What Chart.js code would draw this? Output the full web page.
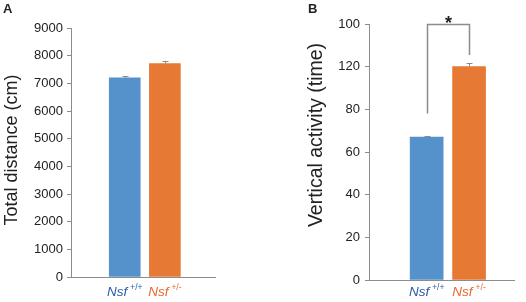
<!DOCTYPE html>
<html>
<head>
<meta charset="utf-8">
<script src="https://cdn.jsdelivr.net/npm/chart.js@4"></script>
<style>
  body { margin: 0; background: #fff; }
  #wrap { position: relative; width: 526px; height: 302px; }
  .panel { position: absolute; top: 0; width: 263px; height: 302px; }
</style>
</head>
<body>
<div id="wrap">
  <div class="panel" style="left:0"><canvas id="chartA" width="263" height="302"></canvas></div>
  <div class="panel" style="left:263px"><canvas id="chartB" width="263" height="302"></canvas></div>
</div>
<script>
// Data
const genes = ["Nsf", "Nsf"];
const genotypes = ["+/+", "+/-"];

const distance = [7200, 7710];
const distanceErr = [80, 95];
const distanceMax = 9000;
const distanceStep = 1000;

// the y labels of panel B run 0..80, then 120 above 100 (as printed)
const activityTicks = ["0", "20", "40", "60", "80", "120", "100"];
const activity = [67, 100];
const activityErr = [0.7, 1.6];
const activityMax = 120;
const activityStep = 20;

// colours
const barColors = ["#5592cc", "#e67a35"];
const labelColors = ["#2a5aa8", "#e8672c"];
const axisColor = "#8c8c8c";
const textColor = "#222222";

Chart.defaults.font.family = "'Liberation Sans', Arial, sans-serif";

// Error bars, genotype labels, axis title, panel letter, significance bracket
const panelDecor = {
  id: "panelDecor",
  afterDraw(chart, args, opts) {
    const { ctx } = chart;
    const y = chart.scales.y;
    const meta = chart.getDatasetMeta(0);
    const ds = chart.data.datasets[0];
    ctx.save();

    // error bars (upper half only)
    ctx.strokeStyle = axisColor;
    ctx.lineWidth = 1;
    meta.data.forEach((bar, i) => {
      const x = Math.round(bar.x) + 0.5;
      const top = Math.round(y.getPixelForValue(ds.data[i].y + opts.errors[i])) + 0.5;
      ctx.beginPath();
      ctx.moveTo(x, bar.y);
      ctx.lineTo(x, top);
      ctx.moveTo(x - 3, top);
      ctx.lineTo(x + 3, top);
      ctx.stroke();
    });

    // genotype labels under the bars
    const geneFont = "italic 13.5px 'Liberation Sans', Arial, sans-serif";
    const supFont = "8.5px 'Liberation Sans', Arial, sans-serif";
    meta.data.forEach((bar, i) => {
      ctx.font = geneFont;
      const w1 = ctx.measureText(genes[i]).width;
      ctx.font = supFont;
      const w2 = ctx.measureText(genotypes[i]).width;
      const gap = 3;
      const x = bar.x - (w1 + gap + w2) / 2;
      ctx.fillStyle = labelColors[i];
      ctx.textBaseline = "alphabetic";
      ctx.textAlign = "left";
      ctx.font = geneFont;
      ctx.fillText(genes[i], x, opts.labelBaseline);
      ctx.font = supFont;
      ctx.fillText(genotypes[i], x + w1 + gap, opts.labelBaseline - 6);
    });

    // y axis title
    ctx.fillStyle = textColor;
    ctx.font = opts.titleSize + "px 'Liberation Sans', Arial, sans-serif";
    ctx.translate(opts.titleX, opts.titleY);
    ctx.rotate(-Math.PI / 2);
    ctx.textAlign = "center";
    ctx.textBaseline = "middle";
    ctx.fillText(opts.title, 0, 0);
    ctx.setTransform(1, 0, 0, 1, 0, 0);

    // panel letter
    ctx.font = "bold 13px 'Liberation Sans', Arial, sans-serif";
    ctx.textAlign = "left";
    ctx.textBaseline = "alphabetic";
    ctx.fillText(opts.letter, opts.letterX, 13);

    // significance bracket
    if (opts.bracket) {
      const b = opts.bracket;
      const x0 = Math.round(meta.data[0].x) + 0.5;
      const x1 = Math.round(meta.data[1].x) + 0.5;
      const yt = Math.round(y.getPixelForValue(b.top)) + 0.5;
      ctx.strokeStyle = axisColor;
      ctx.lineWidth = 1.5;
      ctx.beginPath();
      ctx.moveTo(x0, y.getPixelForValue(b.ends[0]));
      ctx.lineTo(x0, yt);
      ctx.lineTo(x1, yt);
      ctx.lineTo(x1, y.getPixelForValue(b.ends[1]));
      ctx.stroke();
      ctx.fillStyle = textColor;
      ctx.font = "bold 18px 'Liberation Sans', Arial, sans-serif";
      ctx.textAlign = "center";
      ctx.textBaseline = "alphabetic";
      ctx.fillText(b.label, (x0 + x1) / 2, yt + 4);
    }
    ctx.restore();
  },
};

function makePanel(id, cfg) {
  return new Chart(document.getElementById(id), {
    type: "bar",
    data: {
      datasets: [
        {
          data: cfg.values.map((v, i) => ({ x: i, y: v })),
          backgroundColor: barColors,
          barThickness: cfg.barWidth,
        },
      ],
    },
    options: {
      responsive: false,
      animation: false,
      layout: { padding: cfg.padding },
      plugins: {
        legend: { display: false },
        tooltip: { enabled: false },
        panelDecor: cfg.decor,
      },
      scales: {
        x: {
          type: "linear",
          min: cfg.xMin,
          max: cfg.xMax,
          offset: false,
          ticks: { display: false },
          grid: { drawOnChartArea: false, drawTicks: false, color: axisColor },
          border: { color: axisColor },
        },
        y: {
          min: 0,
          max: cfg.yMax,
          ticks: {
            stepSize: cfg.yStep,
            padding: cfg.tickPad,
            color: textColor,
            font: { size: 13 },
            callback: cfg.tickLabel,
          },
          grid: { drawOnChartArea: false, tickLength: 4, color: axisColor },
          border: { color: axisColor },
          afterFit: (axis) => {
            axis.width = cfg.axisWidth;
          },
        },
      },
    },
    plugins: [panelDecor],
  });
}

makePanel("chartA", {
  values: distance,
  barWidth: 31,
  xMin: -1.34,
  xMax: 2.25,
  yMax: distanceMax,
  yStep: distanceStep,
  tickPad: 4,
  tickLabel: (v) => v,
  axisWidth: 71,
  padding: { top: 28, right: 48, bottom: 25, left: 0 },
  decor: {
    errors: distanceErr,
    title: "Total distance (cm)",
    titleSize: 18,
    titleX: 12,
    titleY: 150,
    letter: "A",
    letterX: 3,
    labelBaseline: 296,
  },
});

makePanel("chartB", {
  values: activity,
  barWidth: 33,
  xMin: -1.36,
  xMax: 2.06,
  yMax: activityMax,
  yStep: activityStep,
  tickPad: 5,
  tickLabel: (v, i) => activityTicks[i],
  axisWidth: 106,
  padding: { top: 24, right: 12, bottom: 22, left: 0 },
  decor: {
    errors: activityErr,
    title: "Vertical activity (time)",
    titleSize: 19.5,
    titleX: 54,
    titleY: 135,
    letter: "B",
    letterX: 45,
    labelBaseline: 296,
    bracket: { top: 120, ends: [78, 105.5], label: "*" },
  },
});
</script>
</body>
</html>
